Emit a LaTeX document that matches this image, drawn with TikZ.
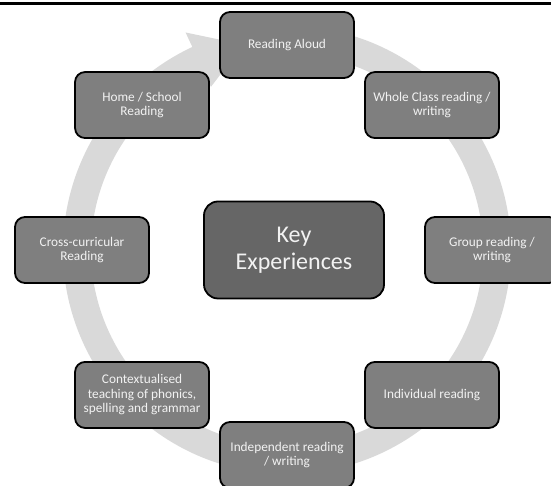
\documentclass[tikz,border=0pt]{standalone}
\usepackage{fontspec}
\setmainfont{Carlito}
\usetikzlibrary{calc}
\definecolor{boxgray}{HTML}{7F7F7F}
\definecolor{centergray}{HTML}{666666}
\definecolor{bandgray}{HTML}{D9D9D9}
\definecolor{txtlight}{HTML}{F2F2F2}
\begin{document}
\begin{tikzpicture}[x=1pt,y=1pt,
  stage/.style={draw=black, line width=1.8pt, rounded corners=10pt, fill=boxgray,
    minimum width=134pt, minimum height=66pt, text=txtlight,
    font=\fontsize{13.3}{14.5}\selectfont, align=center, inner sep=0pt},
  hub/.style={stage, minimum width=180pt, minimum height=97pt, fill=centergray,
    rounded corners=14pt, font=\fontsize{24}{27}\selectfont},
  band/.style={fill=bandgray}]
\useasboundingbox (0,0) rectangle (551,486);
\clip (0,0) rectangle (551,486);
\coordinate (c) at (287,236);
% circular arrow band
\fill[band] ($(c)+(85:224)$) arc[start angle=85, end angle=-245, radius=224]
  -- ($(c)+(115:240)$) -- ($(c)+(102:210)$) -- ($(c)+(115:180)$)
  -- ($(c)+(115:196)$) arc[start angle=-245, end angle=85, radius=196] -- cycle;
% top rule
\coordinate (tl) at (0,482.5);
\coordinate (tr) at (551,482.5);
\draw[line width=2.5pt] (tl) -- (tr);
% stages
\node[stage] (ra) at ($(c)+(90:205)$) {Reading Aloud};
\node[stage] (wc) at ($(c)+(45:205)$) {Whole Class reading /\\writing};
\node[stage] (gr) at ($(c)+(0:205)$) {Group reading /\\writing};
\node[stage] (ir) at ($(c)+(-45:205)$) {Individual reading};
\node[stage] (iw) at ($(c)+(-90:205)$) {Independent reading\\/ writing};
\node[stage] (ct) at ($(c)+(-135:205)$) {Contextualised\\teaching of phonics,\\spelling and grammar};
\node[stage] (cc) at ($(c)+(180:205)$) {Cross-curricular\\Reading};
\node[stage] (hs) at ($(c)+(135:205)$) {Home / School\\Reading};
\node[hub] (key) at (294,236) {Key\\Experiences};
\end{tikzpicture}
\end{document}
